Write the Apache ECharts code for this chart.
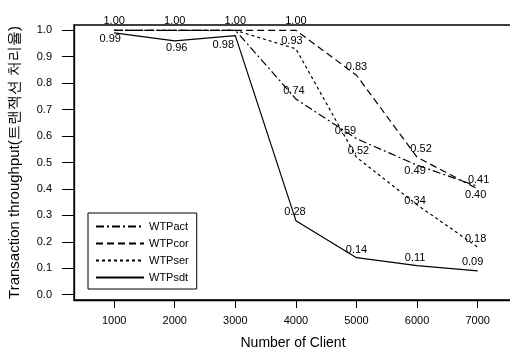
<!DOCTYPE html>
<html><head><meta charset="utf-8">
<script src="https://cdn.jsdelivr.net/npm/echarts@6/dist/echarts.min.js"></script>
<style>html,body{margin:0;padding:0;background:#fff}#c{width:510px;height:350px}</style>
</head><body><div id="c"></div>
<script>
const clients = [1000, 2000, 3000, 4000, 5000, 6000, 7000];
const xTicks = [1000, 2000, 3000, 4000, 5000, 6000, 7000];
const yTicks = [0.0, 0.1, 0.2, 0.3, 0.4, 0.5, 0.6, 0.7, 0.8, 0.9, 1.0];
const seriesNames = ['WTPact', 'WTPcor', 'WTPser', 'WTPsdt'];
const wtpAct = [1.00, 1.00, 1.00, 0.74, 0.59, 0.49, 0.41];
const wtpCor = [1.00, 1.00, 1.00, 1.00, 0.83, 0.52, 0.40];
const wtpSer = [1.00, 1.00, 1.00, 0.93, 0.52, 0.34, 0.18];
const wtpSdt = [0.99, 0.96, 0.98, 0.28, 0.14, 0.11, 0.09];
const labelShow = {
  WTPact: [false, false, false, true, true, true, true],
  WTPcor: [true, true, true, true, true, true, true],
  WTPser: [false, false, false, true, true, true, true],
  WTPsdt: [true, true, true, true, true, true, true]
};
const labelOff = {
  WTPact: [[0,0],[0,0],[0,0],[-2,0],[-11,0],[-2,14],[1,2]],
  WTPcor: [[0,-1],[0,-1],[0,-1],[0,-1],[0,0],[4,0],[-2,14]],
  WTPser: [[0,0],[0,0],[0,0],[-4,0],[2,2],[-2,4],[-2,0]],
  WTPsdt: [[-4,14],[2,15],[-12,17],[-1,-1],[0,0],[-2,0],[-5,-1]]
};
const dashes = {WTPact:[8,3,2,3], WTPcor:[7,4], WTPser:[3,3], WTPsdt:'solid'};
const vals = {WTPact:wtpAct, WTPcor:wtpCor, WTPser:wtpSer, WTPsdt:wtpSdt};
const FONT = '"Liberation Sans", Arial, sans-serif';

const series = seriesNames.map(n => ({
  name: n, type: 'line', symbol: 'circle', symbolSize: 1, showSymbol: true, silent: true, animation: false,
  lineStyle: {color: '#000', width: 1.2, type: dashes[n]},
  itemStyle: {color: 'rgba(0,0,0,0)', borderWidth: 0},
  labelLayout: p => {
    const o = labelOff[n][p.dataIndex];
    return {dx: o[0], dy: o[1], hideOverlap: false};
  },
  label: {show: true, position: 'top', distance: 2, color: '#000', fontSize: 11, fontFamily: FONT,
          formatter: p => p.value[1].toFixed(2)},
  z: n === 'WTPcor' ? 3 : 2,
  data: clients.map((c, i) => ({
    value: [c, vals[n][i]],
    label: {show: labelShow[n][i]}
  }))
}));

const chart = echarts.init(document.getElementById('c'));
chart.setOption({
  backgroundColor: '#fff',
  animation: false,
  grid: {left: 74, right: -2, top: 25, bottom: 50, show: true, containLabel: false, outerBoundsMode: 'none',
         borderColor: '#000', borderWidth: 1.3, backgroundColor: 'transparent'},
  legend: {
    left: 88, top: 213, orient: 'vertical',
    data: seriesNames,
    itemWidth: 48, itemHeight: 10, itemGap: 6,
    padding: [8, 8, 6, 7],
    borderColor: '#000', borderWidth: 1, backgroundColor: '#fff',
    itemStyle: {color: 'rgba(0,0,0,0)', borderWidth: 0, opacity: 0},
    textStyle: {color: '#000', fontSize: 11, fontFamily: FONT, letterSpacing: -0.8}
  },
  xAxis: {
    type: 'value', min: 337, max: 7567,
    name: 'Number of Client', nameLocation: 'middle', nameGap: 36,
    nameTextStyle: {color: '#000', fontSize: 14, fontFamily: FONT, letterSpacing: -0.6},
    axisLine: {show: true, onZero: false, lineStyle: {color: '#000', width: 1.3}},
    axisTick: {show: true, length: 8, inside: false, customValues: xTicks, lineStyle: {color: '#000', width: 1}},
    axisLabel: {customValues: xTicks, formatter: v => String(v), color: '#000', fontSize: 11, fontFamily: FONT, margin: 15, letterSpacing: -0.8},
    splitLine: {show: false}
  },
  yAxis: {
    type: 'value', min: -0.02, max: 1.02,
    name: 'Transaction throughput(트랜잭션 처리율)', nameLocation: 'middle', nameGap: 52,
    nameTextStyle: {color: '#000', fontSize: 15, fontFamily: FONT, letterSpacing: -0.4},
    axisLine: {show: true, onZero: false, lineStyle: {color: '#000', width: 1.3}},
    axisTick: {show: true, length: 12, customValues: yTicks, lineStyle: {color: '#000', width: 1}},
    axisLabel: {customValues: yTicks, formatter: v => v.toFixed(1), color: '#000', fontSize: 11, fontFamily: FONT, margin: 22, letterSpacing: -0.6},
    splitLine: {show: false}
  },
  series: series
});
</script></body></html>
